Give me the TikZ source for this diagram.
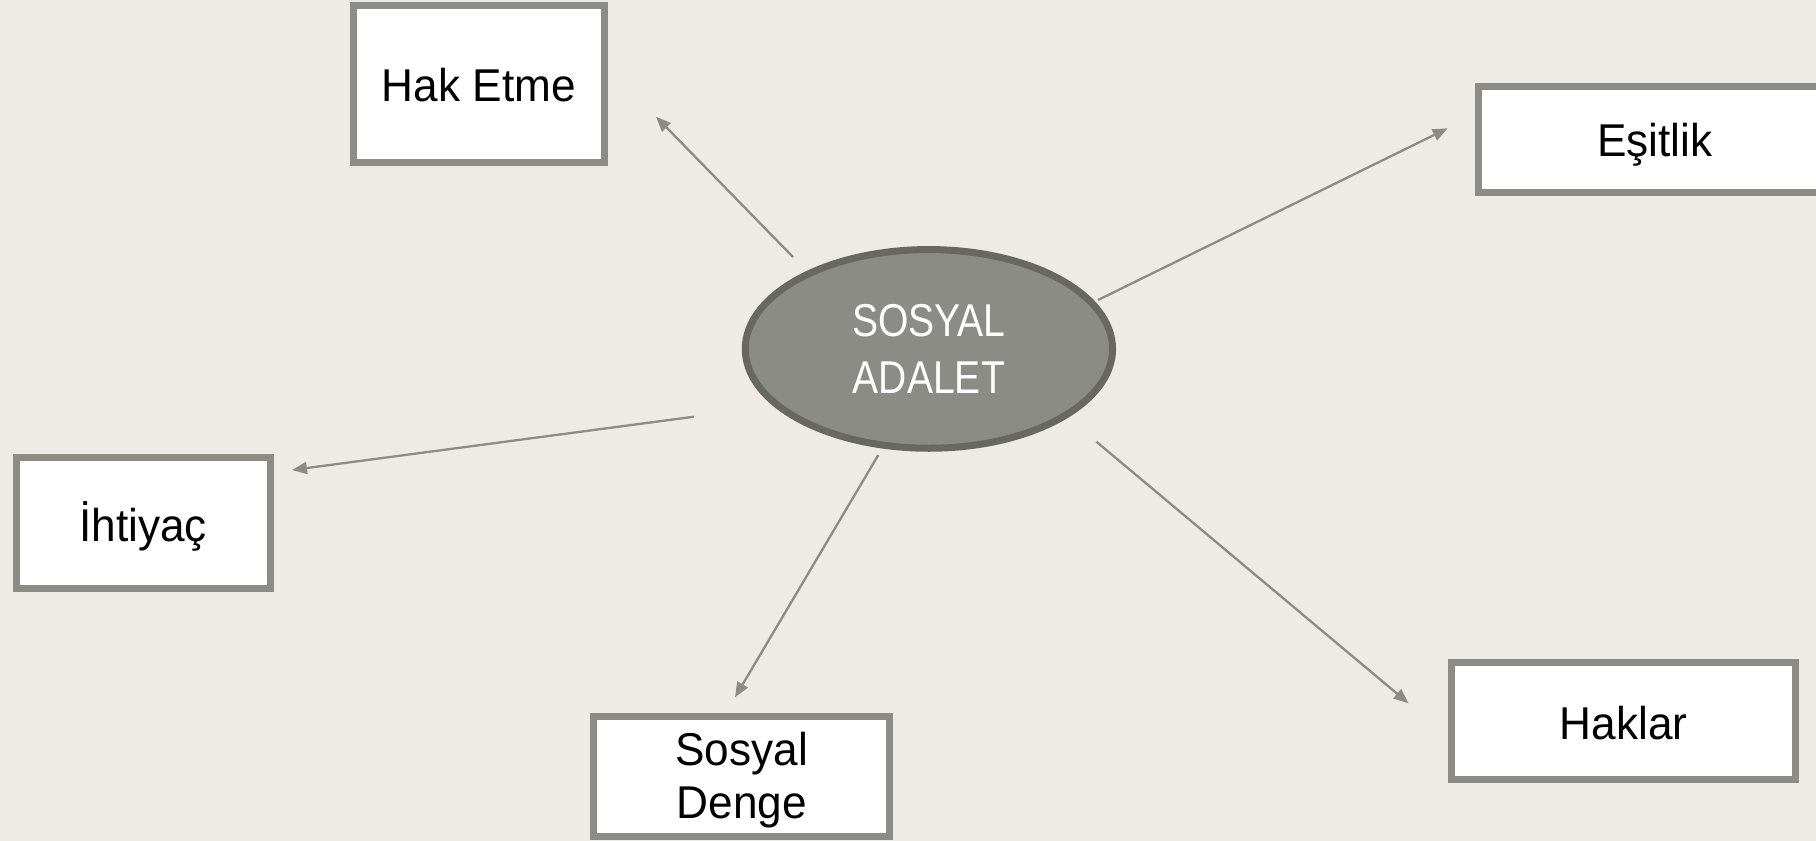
\documentclass[tikz,border=0pt]{standalone}
\usepackage{fontspec}
\setmainfont{Liberation Sans}
\newfontfamily\boxfont[FakeStretch=0.96]{Liberation Sans}
\newfontfamily\corefont[FakeStretch=0.85]{Liberation Sans}
\usetikzlibrary{shapes.geometric,arrows.meta}
\definecolor{bg}{HTML}{EEEBE4}
\definecolor{boxline}{HTML}{8B8C85}
\definecolor{ellfill}{HTML}{8B8C85}
\definecolor{ellline}{HTML}{676862}
\definecolor{arrowc}{HTML}{8B8C85}
\begin{document}
\begin{tikzpicture}[x=1pt,y=-1pt,
  conceptbox/.style={draw=boxline,line width=7pt,fill=white,inner sep=0pt,align=center,
    font=\boxfont\fontsize{46}{52.6}\selectfont,text depth=0pt},
  core/.style={ellipse,draw=ellline,line width=7pt,fill=ellfill,inner sep=0pt,text=white,
    align=center,font=\corefont\fontsize{46}{56.7}\selectfont,minimum width=367.3pt,minimum height=198.7pt},
  link/.style={draw=arrowc,line width=2.3pt,-{Triangle[length=15pt,width=12pt]}}]
\useasboundingbox (0,0) rectangle (1816,841);
\clip (0,0) rectangle (1816,841);
\fill[bg] (0,0) rectangle (1816,841);

\node[core,text height=88.3pt,text depth=-3.9pt] (sa) at (928.9,348.9) {SOSYAL\\ADALET};

\node[conceptbox,text height=35pt,minimum width=250.7pt,minimum height=156.7pt] (hak) at (478.9,84.2) {Hak Etme};
\node[conceptbox,text height=34.6pt,minimum width=353pt,minimum height=106.3pt] (esit) at (1655,139.4) {Eşitlik};
\node[conceptbox,text height=37.4pt,minimum width=253.7pt,minimum height=130.4pt] (iht) at (143.2,523) {İhtiyaç};
\node[conceptbox,text height=36pt,minimum width=343.5pt,minimum height=116.4pt] (hakl) at (1623.7,721) {Haklar};
\node[conceptbox,text height=84.2pt,text depth=1pt,minimum width=296.3pt,minimum height=119.7pt] (sd) at (741.7,776.7) {Sosyal\\Denge};

\coordinate (s1) at (793,257);     \coordinate (t1) at (656,116.7);
\coordinate (s2) at (1098,300);    \coordinate (t2) at (1447.7,128.3);
\coordinate (s3) at (694,416.7);   \coordinate (t3) at (292,470);
\coordinate (s4) at (878.3,455);   \coordinate (t4) at (735,697.3);
\coordinate (s5) at (1096.4,441.7);\coordinate (t5) at (1408.6,703.3);

\draw[link] (s1) -- (t1);
\draw[link] (s2) -- (t2);
\draw[link] (s3) -- (t3);
\draw[link] (s4) -- (t4);
\draw[link] (s5) -- (t5);
\end{tikzpicture}
\end{document}
